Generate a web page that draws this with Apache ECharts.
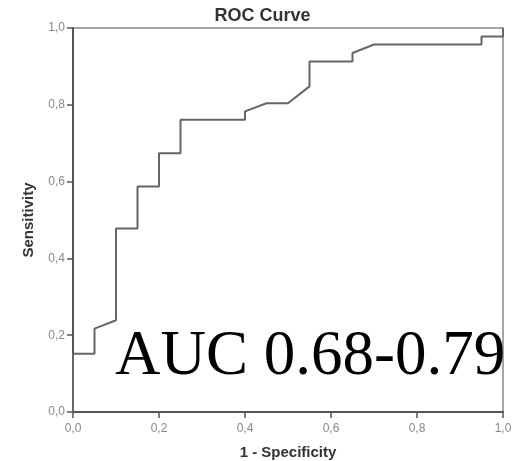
<!DOCTYPE html>
<html>
<head>
<meta charset="utf-8">
<script src="https://cdn.jsdelivr.net/npm/echarts@6/dist/echarts.min.js"></script>
<style>html,body{margin:0;padding:0;background:#fff;}#c{width:525px;height:461px;}</style>
</head>
<body>
<div id="c"></div>
<script>
var titleText = 'ROC Curve';
var xName = '1 - Specificity';
var yName = 'Sensitivity';
var aucText = 'AUC 0.68-0.79';
var fpr = [0, 0, 0.05, 0.05, 0.10, 0.10, 0.15, 0.15, 0.20, 0.20, 0.25, 0.25, 0.40, 0.40, 0.45, 0.50, 0.55, 0.55, 0.65, 0.65, 0.70, 0.95, 0.95, 1, 1];
var tpr = [0, 0.152, 0.152, 0.217, 0.239, 0.478, 0.478, 0.587, 0.587, 0.674, 0.674, 0.761, 0.761, 0.783, 0.804, 0.804, 0.848, 0.913, 0.913, 0.935, 0.957, 0.957, 0.978, 0.978, 1];
var tickFmt = function (v) { return v.toFixed(1).replace('.', ','); };

var pts = fpr.map(function (x, i) { return [x, tpr[i]]; });
var chart = echarts.init(document.getElementById('c'));
chart.setOption({
  animation: false,
  title: {
    text: titleText, left: 'center', top: 2,
    textStyle: { fontFamily: 'Liberation Sans, Arial', fontWeight: 'bold', fontSize: 18, color: '#333' }
  },
  grid: { left: 73, right: 22, top: 28, bottom: 49, show: true, borderColor: '#888', borderWidth: 1.5, outerBoundsMode: 'none', containLabel: false },
  xAxis: {
    type: 'value', min: 0, max: 1, interval: 0.2,
    name: xName, nameLocation: 'middle', nameGap: 33,
    nameTextStyle: { fontFamily: 'Liberation Sans, Arial', fontWeight: 'bold', fontSize: 15, color: '#333' },
    axisLine: { onZero: false, lineStyle: { color: '#555', width: 2 } },
    axisTick: { show: true, length: 6, lineStyle: { color: '#555', width: 1.5 } },
    axisLabel: { formatter: tickFmt, margin: 11, fontFamily: 'Liberation Sans, Arial', fontSize: 12, color: '#888' },
    splitLine: { show: false }
  },
  yAxis: {
    type: 'value', min: 0, max: 1, interval: 0.2,
    name: yName, nameLocation: 'middle', nameGap: 37, nameRotate: 90,
    nameTextStyle: { fontFamily: 'Liberation Sans, Arial', fontWeight: 'bold', fontSize: 15, color: '#333' },
    axisLine: { onZero: false, lineStyle: { color: '#555', width: 2 } },
    axisTick: { show: true, length: 6, lineStyle: { color: '#555', width: 1.5 } },
    axisLabel: { formatter: tickFmt, margin: 8, fontFamily: 'Liberation Sans, Arial', fontSize: 12, color: '#888' },
    splitLine: { show: false }
  },
  series: [{
    type: 'line', data: pts, showSymbol: false, symbol: 'none',
    lineStyle: { color: '#666', width: 2 }
  }],
  graphic: [{
    type: 'text', left: 115, top: 326, z: 100,
    style: { text: aucText, font: '63px "Liberation Serif", "Times New Roman", serif', fill: '#000' }
  }]
});
</script>
</body>
</html>
